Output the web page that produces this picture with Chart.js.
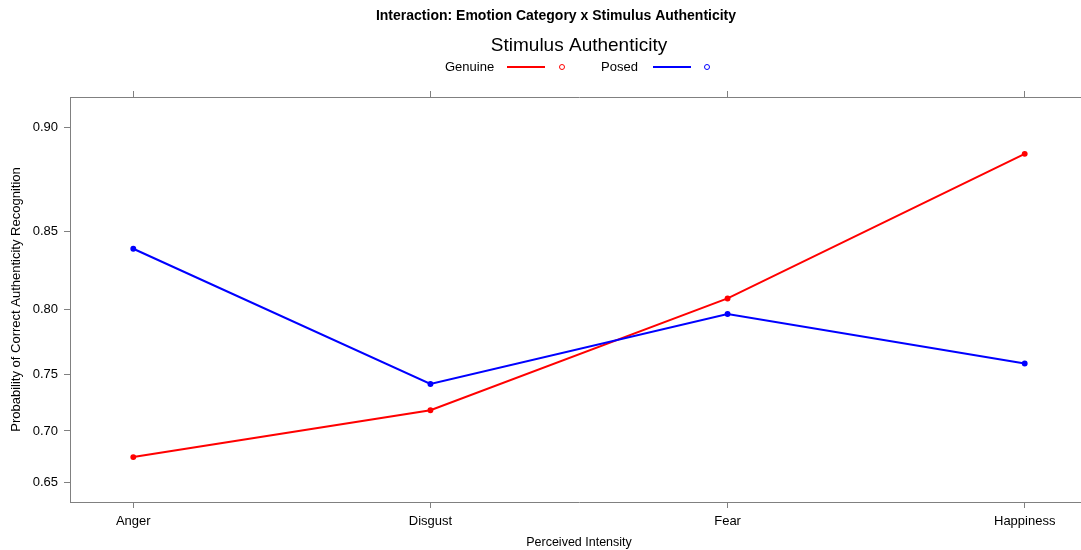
<!DOCTYPE html>
<html>
<head>
<meta charset="utf-8">
<script src="https://cdn.jsdelivr.net/npm/chart.js@4.4.1/dist/chart.umd.min.js"></script>
<style>
  html, body { margin: 0; padding: 0; overflow: hidden; background: #fff; }
  canvas { display: block; }
</style>
</head>
<body>
<canvas id="chart" width="1100" height="550"></canvas>
<script>
const categories = ['Anger', 'Disgust', 'Fear', 'Happiness']
const genuine = [0.675, 0.719, 0.808, 0.889]
const posed = [0.840, 0.742, 0.797, 0.759]
const yTicks = [0.65, 0.70, 0.75, 0.80, 0.85, 0.90]
const seriesNames = ['Genuine', 'Posed']
const seriesColors = ['#ff0000', '#0000ff']

// y axis is on the logit scale (effects plot), labels stay probabilities
const logit = p => Math.log(p / (1 - p))
const toPoints = arr => arr.map((p, i) => ({x: i + 1, y: logit(p)}))

const axisGray = '#808080'
Chart.defaults.font.family = '"Liberation Sans", Arial, sans-serif'
Chart.defaults.color = '#000'

// titles + lattice style key above the panel
const keyPlugin = {
    id: 'latticeKey',
    afterDraw(chart) {
        const ctx = chart.ctx
        ctx.save()
        ctx.fillStyle = '#000'
        ctx.textBaseline = 'middle'
        ctx.textAlign = 'center'
        ctx.font = 'bold 14px "Liberation Sans", Arial, sans-serif'
        ctx.fillText('Interaction: Emotion Category x Stimulus Authenticity', 556, 16)
        ctx.font = '19px "Liberation Sans", Arial, sans-serif'
        ctx.fillText('Stimulus Authenticity', 579, 46)

        const slots = [
            {text: 445, line: [507, 545], dot: 562},
            {text: 601, line: [653, 691], dot: 707}
        ]
        ctx.font = '13px "Liberation Sans", Arial, sans-serif'
        ctx.textAlign = 'left'
        seriesNames.forEach((name, i) => {
            const s = slots[i]
            ctx.fillStyle = '#000'
            ctx.fillText(name, s.text, 67)
            ctx.strokeStyle = seriesColors[i]
            ctx.lineWidth = 2
            ctx.beginPath()
            ctx.moveTo(s.line[0], 67)
            ctx.lineTo(s.line[1], 67)
            ctx.stroke()
            ctx.lineWidth = 1
            ctx.beginPath()
            ctx.arc(s.dot, 67, 2.5, 0, Math.PI * 2)
            ctx.stroke()
        })
        ctx.restore()
    }
}

const catTicks = scale => { scale.ticks = categories.map((c, i) => ({value: i + 1})) }

const chart = new Chart(document.getElementById('chart'), {
    type: 'line',
    data: {
        datasets: [
            {
                label: seriesNames[0],
                data: toPoints(genuine),
                borderColor: seriesColors[0],
                backgroundColor: seriesColors[0],
                borderWidth: 2,
                pointRadius: 2.2,
                pointBorderWidth: 1.5,
                tension: 0,
                order: 2
            },
            {
                label: seriesNames[1],
                data: toPoints(posed),
                borderColor: seriesColors[1],
                backgroundColor: seriesColors[1],
                borderWidth: 2,
                pointRadius: 2.2,
                pointBorderWidth: 1.5,
                tension: 0,
                order: 1
            }
        ]
    },
    options: {
        responsive: false,
        animation: false,
        devicePixelRatio: 1,
        layout: {padding: {top: 91, left: 0, right: 12, bottom: 0}},
        plugins: {legend: {display: false}, tooltip: {enabled: false}},
        scales: {
            x: {
                type: 'linear',
                position: 'bottom',
                min: 0.787,
                max: 4.213,
                afterBuildTicks: catTicks,
                afterFit: s => { s.height = 48 },
                ticks: {
                    callback: (v, i) => categories[i],
                    font: {size: 13},
                    padding: 6,
                    maxRotation: 0,
                    autoSkip: false
                },
                grid: {drawOnChartArea: false, tickLength: 6, color: axisGray},
                border: {color: axisGray},
                title: {display: true, text: 'Perceived Intensity', font: {size: 12.5}, padding: 0}
            },
            xTop: {
                type: 'linear',
                position: 'top',
                min: 0.787,
                max: 4.213,
                afterBuildTicks: catTicks,
                afterFit: s => { s.height = 6 },
                ticks: {display: false},
                grid: {drawOnChartArea: false, tickLength: 6, color: axisGray},
                border: {color: axisGray}
            },
            y: {
                type: 'linear',
                position: 'left',
                min: 0.5311,
                max: 2.3336,
                afterBuildTicks: s => { s.ticks = yTicks.map(p => ({value: logit(p)})) },
                afterFit: s => { s.width = 70 },
                ticks: {
                    callback: (v, i) => yTicks[i].toFixed(2),
                    font: {size: 13},
                    padding: 6
                },
                grid: {drawOnChartArea: false, tickLength: 6, color: axisGray},
                border: {color: axisGray},
                title: {
                    display: true,
                    text: 'Probability of Correct Authenticity Recognition',
                    font: {size: 13},
                    padding: {top: 9, bottom: 0}
                }
            }
        }
    },
    plugins: [keyPlugin]
})
</script>
</body>
</html>
